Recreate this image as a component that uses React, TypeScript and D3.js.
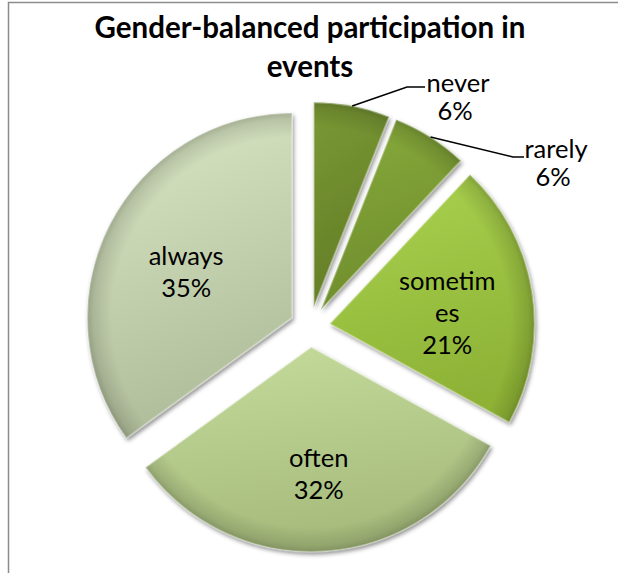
import React from "react";
import * as d3 from "d3";

const categories = ["never", "rarely", "sometimes", "often", "always"];
const values = [6, 6, 21, 32, 35];
const percentLabels = ["6%", "6%", "21%", "32%", "35%"];
const colorsTop = ["#7a9934", "#88ab3c", "#abd34f", "#c5dc9c", "#dbe8c6"];
const colorsBottom = ["#637d27", "#6f8d2c", "#8db236", "#a6bb7c", "#b0bd9a"];
const titleLines = ["Gender-balanced participation in", "events"];

const W = 618;
const H = 573;
const CX = 310;
const CY = 327;
const R = 205;
const EXPLODE = 20;
const LABEL_R = 119;
const FONT = "Lato, 'Open Sans', sans-serif";
const LABEL_SIZE = 25.5;

// outside labels (never, rarely)
const outside: Record<number, { x: number; y: number; elbow: [number, number]; end: [number, number] }> = {
  0: { x: 458, y: 92, elbow: [407, 87], end: [425, 87] },
  1: { x: 556, y: 158, elbow: [513, 157], end: [524, 157] },
};

function wrapWord(word: string, maxChars: number): string[] {
  const out: string[] = [];
  for (let i = 0; i < word.length; i += maxChars) out.push(word.slice(i, i + maxChars));
  return out;
}

export default function App() {
  const pie = d3.pie<number>().sort(null).startAngle(0).endAngle(2 * Math.PI);
  const arcs = pie(values);
  const arc = d3.arc<d3.PieArcDatum<number>>().innerRadius(0).outerRadius(R);
  const lineH = 32;

  return (
    <svg
      width={W}
      height={H}
      style={{ position: "absolute", left: 0, top: 0 }}
      xmlns="http://www.w3.org/2000/svg"
    >
      <defs>
        {arcs.map((a, i) => (
          <linearGradient key={i} id={`g${i}`} x1="0" y1="0" x2="0.25" y2="1">
            <stop offset="0%" stopColor={colorsTop[i]} />
            <stop offset="100%" stopColor={colorsBottom[i]} />
          </linearGradient>
        ))}
        <radialGradient id="rim" cx="0.5" cy="0.5" r="0.5">
          <stop offset="0%" stopColor="#000" stopOpacity={0} />
          <stop offset="88%" stopColor="#000" stopOpacity={0} />
          <stop offset="97%" stopColor="#000" stopOpacity={0.12} />
          <stop offset="100%" stopColor="#000" stopOpacity={0.22} />
        </radialGradient>
        <filter id="shadow" x="-10%" y="-10%" width="120%" height="120%">
          <feDropShadow dx="1.5" dy="2.5" stdDeviation="2" floodColor="#000" floodOpacity={0.45} />
        </filter>
      </defs>
      <rect x={8.5} y={2.5} width={700} height={700} fill="#fff" stroke="#8c8c8c" strokeWidth={1.5} />
      {titleLines.map((t, i) => (
        <text
          key={i}
          x={CX}
          y={38 + i * 39}
          textAnchor="middle"
          fontFamily={FONT}
          fontWeight="bold"
          fontSize={29.5}
          fill="#000"
        >
          {t}
        </text>
      ))}
      {arcs.map((a, i) => {
        const mid = (a.startAngle + a.endAngle) / 2;
        const dx = Math.sin(mid) * EXPLODE;
        const dy = -Math.cos(mid) * EXPLODE;
        const p = arc(a) || "";
        return (
          <g key={i} transform={`translate(${CX + dx},${CY + dy})`}>
            <path d={p} fill={`url(#g${i})`} filter="url(#shadow)" />
            <clipPath id={`c${i}`}>
              <path d={p} />
            </clipPath>
            <circle r={R} fill="url(#rim)" clipPath={`url(#c${i})`} />
            <path d={p} fill="none" stroke="#ffffff" strokeOpacity={0.35} strokeWidth={2} />
          </g>
        );
      })}
      {arcs.map((a, i) => {
        const mid = (a.startAngle + a.endAngle) / 2;
        const ox = CX + Math.sin(mid) * EXPLODE;
        const oy = CY - Math.cos(mid) * EXPLODE;
        const o = outside[i];
        if (o) {
          const sx = ox + Math.sin(mid) * R;
          const sy = oy - Math.cos(mid) * R;
          return (
            <g key={i}>
              <polyline
                points={`${sx},${sy} ${o.elbow[0]},${o.elbow[1]} ${o.end[0]},${o.end[1]}`}
                fill="none"
                stroke="#000"
                strokeWidth={1.5}
              />
              <text x={o.x} y={o.y} textAnchor="middle" fontFamily={FONT} fontSize={LABEL_SIZE} fill="#000">
                {categories[i]}
              </text>
              <text x={o.x - 3} y={o.y + 28} textAnchor="middle" fontFamily={FONT} fontSize={LABEL_SIZE} fill="#000">
                {percentLabels[i]}
              </text>
            </g>
          );
        }
        const lines = [...wrapWord(categories[i], 7), percentLabels[i]];
        const lx = ox + Math.sin(mid) * LABEL_R;
        const ly = oy - Math.cos(mid) * LABEL_R;
        const y0 = ly - ((lines.length - 1) * lineH) / 2 + 17;
        return (
          <g key={i}>
            {lines.map((l, j) => (
              <text
                key={j}
                x={lx}
                y={y0 + j * lineH}
                textAnchor="middle"
                fontFamily={FONT}
                fontSize={LABEL_SIZE}
                fill="#000"
              >
                {l}
              </text>
            ))}
          </g>
        );
      })}
    </svg>
  );
}
